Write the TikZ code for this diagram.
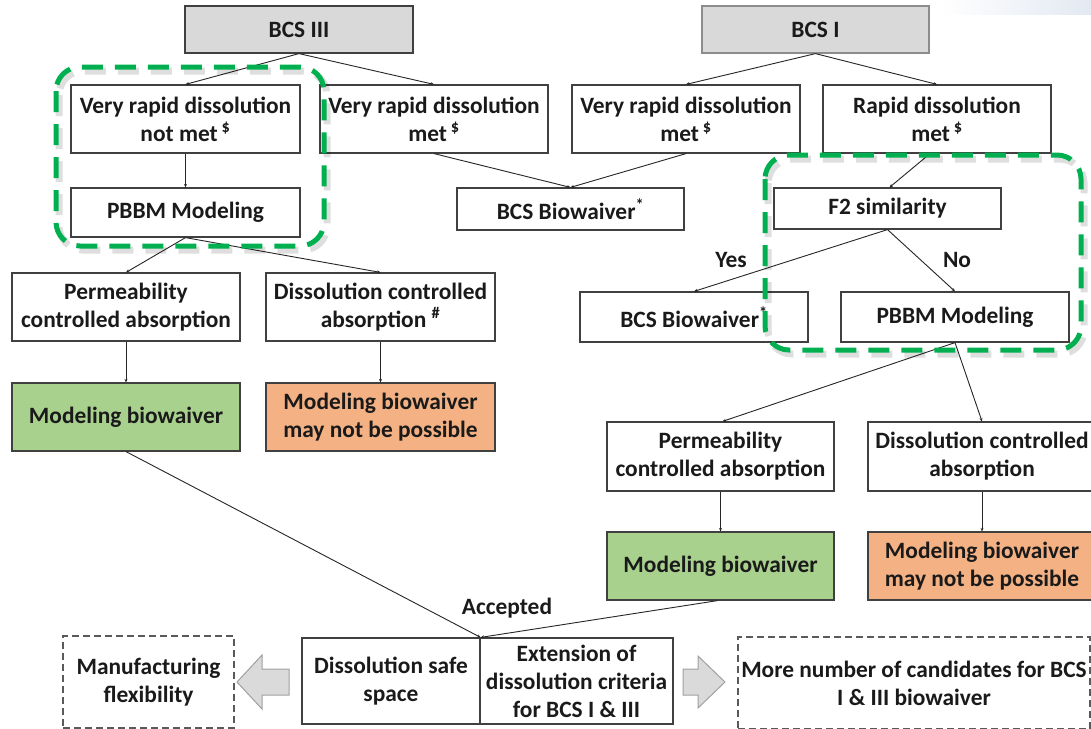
\documentclass[tikz,border=0pt]{standalone}
\usepackage{fontspec}
\setmainfont{Carlito}
\usetikzlibrary{arrows.meta,calc}

\definecolor{boxline}{HTML}{404040}
\definecolor{txt}{HTML}{1A1A1A}
\definecolor{headfill}{HTML}{D9D9D9}
\definecolor{okfill}{HTML}{A9D18E}
\definecolor{nofill}{HTML}{F4B183}
\definecolor{focus}{HTML}{00B050}
\definecolor{arrowfill}{HTML}{DADADA}
\definecolor{arrowline}{HTML}{A0A0A0}
\definecolor{outline}{HTML}{5A5A5A}
\definecolor{haze}{HTML}{E3E9F2}

\tikzset{
  box/.style={draw=boxline, line width=1.2pt, fill=white, inner sep=0pt,
    align=center, text=txt, font=\bfseries\fontsize{23.4}{28}\selectfont},
  sz/.style 2 args={minimum width=#1, minimum height=#2},
  head/.style={box, fill=headfill},
  okbox/.style={box, fill=okfill},
  nobox/.style={box, fill=nofill},
  outcome/.style={box, draw=outline, line width=1.1pt, dash pattern=on 7pt off 4pt},
  link/.style={draw=black!85, line width=0.9pt, -{Stealth[length=3.5pt,width=3pt]}},
  tag/.style={text=txt, inner sep=0pt, font=\bfseries\fontsize{23.4}{28}\selectfont},
  focusline/.style={draw=focus, line width=5pt, dash pattern=on 21pt off 12pt, rounded corners=24pt},
  focusshadow/.style={draw=black, line width=7pt, opacity=0.13, dash pattern=on 21pt off 12pt, rounded corners=24pt},
  blockarrow/.style={draw=arrowline, line width=1pt, fill=arrowfill, line join=miter},
}

\begin{document}
\begin{tikzpicture}[x=1pt, y=-1pt]
\useasboundingbox (0,0) rectangle (1091,728);
\clip (0,0) rectangle (1091,728);
\fill[white] (0,0) rectangle (1091,728);
% faint tint along the top right edge
\shade[left color=white, right color=haze] (940,0) rectangle (1091,14);

% class headers
\node[head, draw=boxline, sz={228}{47}] (bcs3) at (299,29.5) {BCS III};
\node[head, draw=black!45, sz={227}{47}] (bcs1) at (815.5,29.5) {BCS I};

% dissolution criteria
\node[box, sz={229}{68}] (vnm) at (185.5,119) {Very rapid dissolution\\not met\,\textsuperscript{\$}};
\node[box, sz={228}{68}] (vm3) at (434,119) {Very rapid dissolution\\met\,\textsuperscript{\$}};
\node[box, sz={228}{68}] (vm1) at (686,119) {Very rapid dissolution\\met\,\textsuperscript{\$}};
\node[box, sz={228}{68}] (rap) at (937,119) {Rapid dissolution\\met\,\textsuperscript{\$}};

% second level
\node[box, sz={229}{49}] (pbl) at (185.5,212.5) {PBBM Modeling};
\node[box, sz={227}{42}] (bw) at (570.5,209) {BCS Biowaiver\textsuperscript{*}};
\node[box, sz={227}{41}] (f2) at (887.5,208.5) {F2 similarity};
\node[box, sz={228}{50}] (bwr) at (694,317) {BCS Biowaiver\textsuperscript{*}};
\node[box, sz={228}{50}] (pbr) at (955,317) {PBBM Modeling};

% absorption type, BCS III branch
\node[box, sz={228}{68}] (perl) at (126,307) {Permeability\\controlled absorption};
\node[box, sz={229}{68}] (disl) at (380.5,307) {Dissolution controlled\\absorption \textsuperscript{\#}};
\node[okbox, sz={228}{68}] (grl) at (126,417) {Modeling biowaiver};
\node[nobox, sz={229}{68}] (orl) at (380.5,417) {Modeling biowaiver\\may not be possible};

% absorption type, BCS I branch
\node[box, sz={227}{69}] (perr) at (720.5,456.5) {Permeability\\controlled absorption};
\node[box, sz={228}{69}] (disr) at (982,456.5) {Dissolution controlled\\absorption};
\node[okbox, sz={227}{68}] (grr) at (720.5,566) {Modeling biowaiver};
\node[nobox, sz={228}{68}] (orr) at (982,566) {Modeling biowaiver\\may not be possible};

% outcome
\node[box, sz={178}{86}] (safe) at (391,681) {Dissolution safe\\space};
\node[box, sz={193}{86}] (ext) at (576.5,681) {Extension of\\dissolution criteria\\for BCS I \& III};
\node[outcome, sz={171}{92}] (mfg) at (148.5,682) {Manufacturing\\flexibility};
\node[outcome, sz={352}{92}] (more) at (914,683) {More number of candidates for BCS\\I \& III biowaiver};

% connectors
\draw[link] (bcs3.south) -- (vnm.north);
\draw[link] (bcs3.south) -- (vm3.north);
\draw[link] (bcs1.south) -- (vm1.north);
\draw[link] (bcs1.south) -- (rap.north);
\draw[link] (vnm.south) -- (pbl.north);
\draw[link] (vm3.south) -- (bw.north);
\draw[link] (vm1.south) -- (bw.north);
\draw[link] ([xshift=-7pt]rap.south) -- ([xshift=2pt]f2.north);
\draw[link] (f2.south) -- (bwr.north);
\draw[link] (f2.south) -- (pbr.north);
\draw[link] (pbl.south) -- (perl.north);
\draw[link] (pbl.south) -- (disl.north);
\draw[link] (pbr.south) -- ([xshift=2pt]perr.north);
\draw[link] (pbr.south) -- (disr.north);
\draw[link] (perl.south) -- (grl.north);
\draw[link] (disl.south) -- (orl.north);
\draw[link] (perr.south) -- (grr.north);
\draw[link] (disr.south) -- (orr.north);
\coordinate (join) at (safe.north east);
\draw[link] (grl.south) -- (join);
\draw[link] ([xshift=-3pt]grr.south) -- (join);

% branch labels
\node[tag] (yes) at (731,260) {Yes};
\node[tag] (no) at (957,260) {No};
\node[tag] (acc) at (507,608) {Accepted};

% block arrows toward the consequences
\draw[blockarrow] (289,669) -- (262,669) -- (262,655) -- (237,682) -- (262,709) -- (262,695) -- (289,695) -- cycle;
\draw[blockarrow] (683,669) -- (698,669) -- (698,656) -- (725,682) -- (698,708) -- (698,695) -- (683,695) -- cycle;

% highlighted PBBM regions
\draw[focusshadow, shift={(3,4)}] (56,67) rectangle (324,246);
\draw[focusline] (56,67) rectangle (324,246);
\draw[focusshadow, shift={(3,4)}] (765,155) rectangle (1081,350);
\draw[focusline] (765,155) rectangle (1081,350);
\end{tikzpicture}
\end{document}
